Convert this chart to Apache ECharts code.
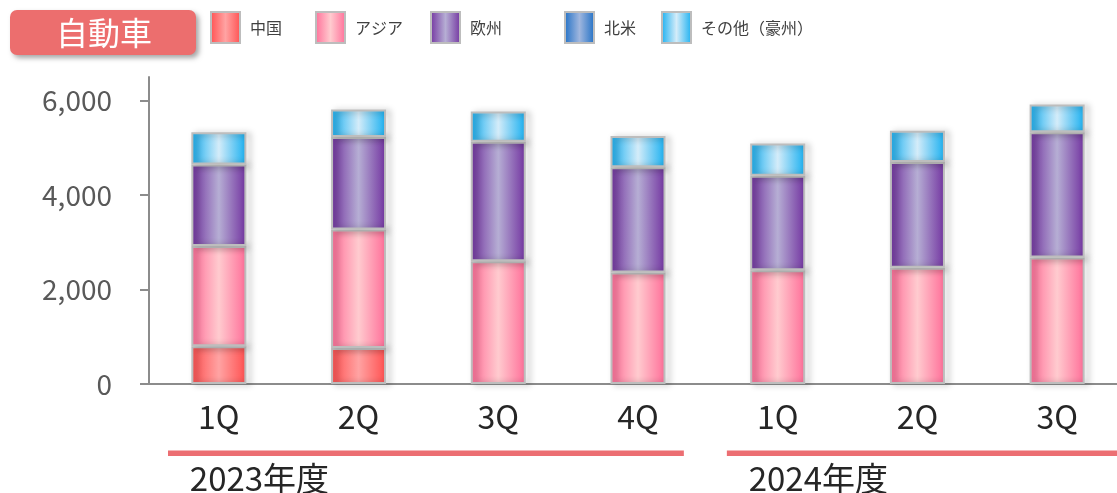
<!DOCTYPE html>
<html>
<head>
<meta charset="utf-8">
<script src="https://cdn.jsdelivr.net/npm/echarts@6/dist/echarts.min.js"></script>
<style>
  html, body { margin: 0; padding: 0; background: #ffffff; }
  #chart { width: 1117px; height: 493px; }
</style>
</head>
<body>
<div id="chart"></div>
<script>
// Quarterly automotive sales by region (stacked)
const quarters = ['1Q', '2Q', '3Q', '4Q', '1Q', '2Q', '3Q'];
const fiscalYears = [
  { label: '2023年度', from: 0, to: 3 },
  { label: '2024年度', from: 4, to: 6 }
];
const seriesNames = ['中国', 'アジア', '欧州', '北米', 'その他（豪州）'];
const china  = [800, 760, '-', '-', '-', '-', '-'];
const asia   = [2120, 2510, 2600, 2360, 2410, 2460, 2680];
const europe = [1730, 1960, 2530, 2230, 2000, 2240, 2650];
const northAmerica = ['-', '-', '-', '-', '-', '-', '-'];
const others = [680, 580, 640, 660, 680, 660, 590];
const yTicks = [0, 2000, 4000, 6000];

const FONT = "'Noto Sans CJK JP', 'Noto Sans', sans-serif";

// horizontal "cylinder" shading: dark edges, light centre
function shade(edge, mid) {
  return new echarts.graphic.LinearGradient(0, 0, 1, 0, [
    { offset: 0, color: edge },
    { offset: 0.5, color: mid },
    { offset: 1, color: edge }
  ]);
}
const palette = [
  shade('#ff5050', '#ffa3a3'),
  shade('#ff6d98', '#ffcbcf'),
  shade('#7233a0', '#b6aed4'),
  shade('#1f6fc5', '#9fb6de'),
  shade('#18aff0', '#d4ecf9')
];
const seriesData = [china, asia, europe, northAmerica, others];

const chart = echarts.init(document.getElementById('chart'), null, { renderer: 'canvas' });

const legendLefts = [210, 315, 430, 564, 661];

const option = {
  animation: false,
  backgroundColor: '#ffffff',
  textStyle: { fontFamily: FONT },
  // plot area runs slightly past the right edge of the canvas
  grid: { left: 149, width: 978, top: 77, height: 307, containLabel: false, outerBoundsMode: 'none' },
  legend: seriesNames.map((name, i) => ({
    data: [name],
    left: legendLefts[i],
    top: 11,
    padding: 0,
    itemWidth: 29,
    itemHeight: 31,
    icon: 'rect',
    selectedMode: false,
    textStyle: { fontFamily: FONT, fontSize: 16, color: '#404040', padding: [0, 0, 0, 5] }
  })),
  xAxis: {
    type: 'category',
    data: quarters,
    axisLine: { lineStyle: { color: '#8c8c8c', width: 2 } },
    axisTick: { show: false },
    axisLabel: { fontFamily: FONT, fontSize: 32, color: '#262626', margin: 17 }
  },
  yAxis: {
    type: 'value',
    min: 0,
    max: 6500,
    interval: 2000,
    splitLine: { show: false },
    axisLine: { show: true, lineStyle: { color: '#8c8c8c', width: 2 } },
    axisTick: { show: true, length: 9, customValues: yTicks, lineStyle: { color: '#8c8c8c', width: 2 } },
    axisLabel: {
      customValues: yTicks,
      fontFamily: FONT,
      fontSize: 28,
      color: '#595959',
      margin: 37,
      formatter: v => v.toLocaleString('en-US')
    }
  },
  series: seriesNames.map((name, i) => ({
    name,
    type: 'bar',
    stack: 'total',
    barWidth: 55,
    data: seriesData[i],
    itemStyle: {
      color: palette[i],
      borderColor: '#bdbdbd',
      borderWidth: 2,
      shadowColor: 'rgba(0,0,0,0.38)',
      shadowBlur: 6,
      shadowOffsetX: 4,
      shadowOffsetY: 1
    }
  }))
};
chart.setOption(option);

// Title badge and fiscal-year brackets under the category axis
function drawDecorations() {
  const c0 = chart.convertToPixel({ xAxisIndex: 0 }, 0);
  const c1 = chart.convertToPixel({ xAxisIndex: 0 }, 1);
  const band = c1 - c0;
  const lastIndex = quarters.length - 1;
  const width = chart.getWidth();
  const elements = [
    {
      type: 'rect',
      shape: { x: 10, y: 10, width: 186, height: 45, r: 7 },
      style: { fill: '#ec6e6e', shadowColor: 'rgba(0,0,0,0.35)', shadowBlur: 5, shadowOffsetX: 3, shadowOffsetY: 3 },
      z: 10
    },
    {
      type: 'text',
      x: 104, y: 33,
      style: { text: '自動車', fill: '#ffffff', font: "32px " + FONT, align: 'center', verticalAlign: 'middle' },
      z: 11
    }
  ];
  fiscalYears.forEach(fy => {
    const start = chart.convertToPixel({ xAxisIndex: 0 }, fy.from) - band / 2 + 19;
    const end = fy.to === lastIndex
      ? width
      : chart.convertToPixel({ xAxisIndex: 0 }, fy.to) + band / 2 - 24;
    elements.push({
      type: 'rect',
      shape: { x: start, y: 450.5, width: end - start, height: 5.5 },
      style: { fill: '#ec6e72' },
      z: 10
    });
    elements.push({
      type: 'text',
      x: chart.convertToPixel({ xAxisIndex: 0 }, fy.from) - 29,
      y: 478,
      style: { text: fy.label, fill: '#262626', font: "33px " + FONT, align: 'left', verticalAlign: 'middle' },
      z: 10
    });
  });
  chart.setOption({ graphic: { elements } });
}
drawDecorations();
</script>
</body>
</html>
